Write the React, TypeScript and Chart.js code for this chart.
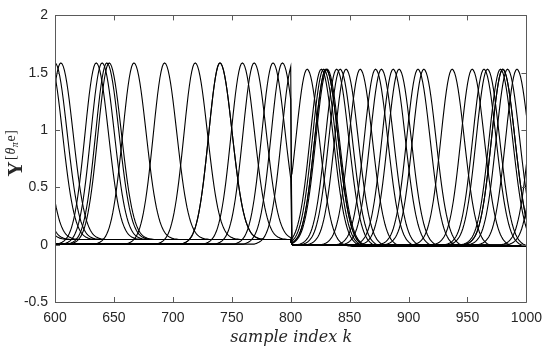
import React, { useEffect, useRef } from 'react';
import { Chart, registerables } from 'chart.js';
Chart.register(...registerables);

// Axis ticks
const xTickValues = [600, 650, 700, 750, 800, 850, 900, 950, 1000];
const yTickValues = [-0.5, 0, 0.5, 1, 1.5, 2];

// Peak positions (sample index), per segment
const seg1Centers = [572, 575, 582, 596, 600, 605, 635, 640, 644, 646, 667, 693, 719, 740, 740, 759, 769, 785, 793, 802];
const seg2Centers = [814, 826, 828, 830, 830, 831, 839, 842, 847, 859, 872, 877, 887, 892, 908, 913, 937, 954, 964, 967, 978, 980, 980, 984, 992, 1012, 1017];

// Peak and baseline levels per segment
const seg1Levels = [0.005, 1.585, 0.045]; // before, peak, after
const seg2Levels = [0.0, 1.53, -0.015];

// Bump shape: fraction of peak at offsets 1..n samples
const leftProfile = [0.995, 0.979, 0.952, 0.917, 0.873, 0.823, 0.766, 0.707, 0.644, 0.581, 0.519, 0.458, 0.4, 0.345, 0.295, 0.249, 0.209, 0.172, 0.141, 0.114, 0.091, 0.072, 0.057, 0.044, 0.034, 0.026, 0.019, 0.014, 0.01, 0.007, 0.004, 0.002, 0];
const rightProfile = [0.995, 0.981, 0.958, 0.927, 0.889, 0.844, 0.794, 0.739, 0.682, 0.624, 0.565, 0.507, 0.451, 0.397, 0.346, 0.299, 0.256, 0.217, 0.182, 0.152, 0.125, 0.102, 0.083, 0.066, 0.053, 0.041, 0.032, 0.025, 0.019, 0.014, 0.011, 0.008, 0.006, 0.004, 0.003, 0.002, 0.001, 0];

function bumpSeries(center: number, start: number, end: number, levels: number[]) {
  const [pre, peak, post] = levels;
  const pts: { x: number; y: number }[] = [];
  for (let k = start; k <= end; k++) {
    const d = k - center;
    let y: number;
    if (d === 0) y = peak;
    else if (d < 0) {
      const f = -d <= leftProfile.length ? leftProfile[-d - 1] : 0;
      y = pre + (peak - pre) * f;
    } else {
      const f = d <= rightProfile.length ? rightProfile[d - 1] : 0;
      y = post + (peak - post) * f;
    }
    pts.push({ x: k, y });
  }
  return pts;
}

const AXIS_COLOR = '#5a5a5a';
const TEXT_COLOR = '#262626';

const framePlugin = {
  id: 'frame',
  afterDraw(chart: any) {
    const { ctx, chartArea } = chart;
    const { left, right, top, bottom } = chartArea;
    const xs = chart.scales.x;
    const ys = chart.scales.y;
    ctx.save();
    ctx.strokeStyle = AXIS_COLOR;
    ctx.lineWidth = 1;
    ctx.beginPath();
    ctx.rect(Math.round(left) + 0.5, Math.round(top) + 0.5, Math.round(right - left), Math.round(bottom - top));
    ctx.stroke();
    const tl = 5;
    ctx.beginPath();
    for (const v of xTickValues) {
      const px = Math.round(xs.getPixelForValue(v)) + 0.5;
      ctx.moveTo(px, bottom);
      ctx.lineTo(px, bottom - tl);
      ctx.moveTo(px, top);
      ctx.lineTo(px, top + tl);
    }
    for (const v of yTickValues) {
      const py = Math.round(ys.getPixelForValue(v)) + 0.5;
      ctx.moveTo(left, py);
      ctx.lineTo(left + tl, py);
      ctx.moveTo(right, py);
      ctx.lineTo(right - tl, py);
    }
    ctx.stroke();

    // X title
    ctx.fillStyle = TEXT_COLOR;
    ctx.font = 'italic 16px "DejaVu Serif"';
    ctx.textAlign = 'center';
    ctx.textBaseline = 'middle';
    ctx.fillText('sample index k', (left + right) / 2 + 0.5, 338);

    // Y title: bold Y with superscript [θ_π e]
    ctx.translate(22, 153);
    ctx.rotate(-Math.PI / 2);
    ctx.textBaseline = 'alphabetic';
    ctx.textAlign = 'left';
    const bigFont = 'bold 21px "Liberation Serif"';
    const supFont = '14px "Liberation Serif"';
    const supItal = 'italic 14px "Liberation Serif"';
    const subItal = 'italic 10px "Liberation Serif"';
    const parts: [string, string, number][] = [
      ['Y', bigFont, 0],
      ['[', supFont, -7],
      ['θ', supItal, -7],
      ['π', subItal, -4],
      ['e', supFont, -7],
      [']', supFont, -7],
    ];
    const gap = (t: string) => (t === 'Y' ? 1.5 : 0.6);
    let total = 0;
    for (const [t, f] of parts) { ctx.font = f; total += ctx.measureText(t).width + gap(t); }
    let x = -total / 2;
    for (const [t, f, dy] of parts) {
      ctx.font = f;
      ctx.fillText(t, x, dy);
      x += ctx.measureText(t).width + gap(t);
    }
    ctx.restore();
  },
};

export default function App() {
  const ref = useRef<HTMLCanvasElement>(null);
  useEffect(() => {
    document.body.style.margin = '0';
    const datasets: any[] = [];
    for (const c of seg1Centers) {
      const pts = bumpSeries(c, 600, 800, seg1Levels);
      pts.push({ x: 801, y: seg2Levels[0] });
      datasets.push({ data: pts });
    }
    for (const c of seg2Centers) {
      datasets.push({ data: bumpSeries(c, 801, 1000, seg2Levels) });
    }
    for (const d of datasets) {
      d.borderColor = '#000000';
      d.borderWidth = 1.1;
      d.pointRadius = 0;
      d.showLine = true;
      d.fill = false;
      d.tension = 0;
    }
    const chart = new Chart(ref.current!, {
      type: 'scatter',
      data: { datasets },
      options: {
        animation: false,
        responsive: false,
        events: [],
        layout: { padding: { left: 0, right: 23, top: 11, bottom: 0 } },
        plugins: { legend: { display: false }, tooltip: { enabled: false } },
        scales: {
          x: {
            type: 'linear',
            min: 600,
            max: 1000,
            afterFit: (s: any) => { s.height = 49; },
            afterBuildTicks: (s: any) => { s.ticks = xTickValues.map((v) => ({ value: v })); },
            grid: { display: false, drawTicks: false },
            border: { display: false },
            ticks: {
              padding: 8,
              color: TEXT_COLOR,
              font: { family: '"Liberation Sans", Arial, sans-serif', size: 14 },
              callback: (v: any) => String(v),
            },
          },
          y: {
            type: 'linear',
            min: -0.5,
            max: 2,
            afterFit: (s: any) => { s.width = 55; },
            afterBuildTicks: (s: any) => { s.ticks = yTickValues.map((v) => ({ value: v })); },
            grid: { display: false, drawTicks: false },
            border: { display: false },
            ticks: {
              padding: 7,
              color: TEXT_COLOR,
              font: { family: '"Liberation Sans", Arial, sans-serif', size: 14 },
              callback: (v: any) => String(v),
            },
          },
        },
      },
      plugins: [framePlugin],
    });
    return () => chart.destroy();
  }, []);
  return <canvas ref={ref} width={550} height={351} style={{ display: 'block' }} />;
}
